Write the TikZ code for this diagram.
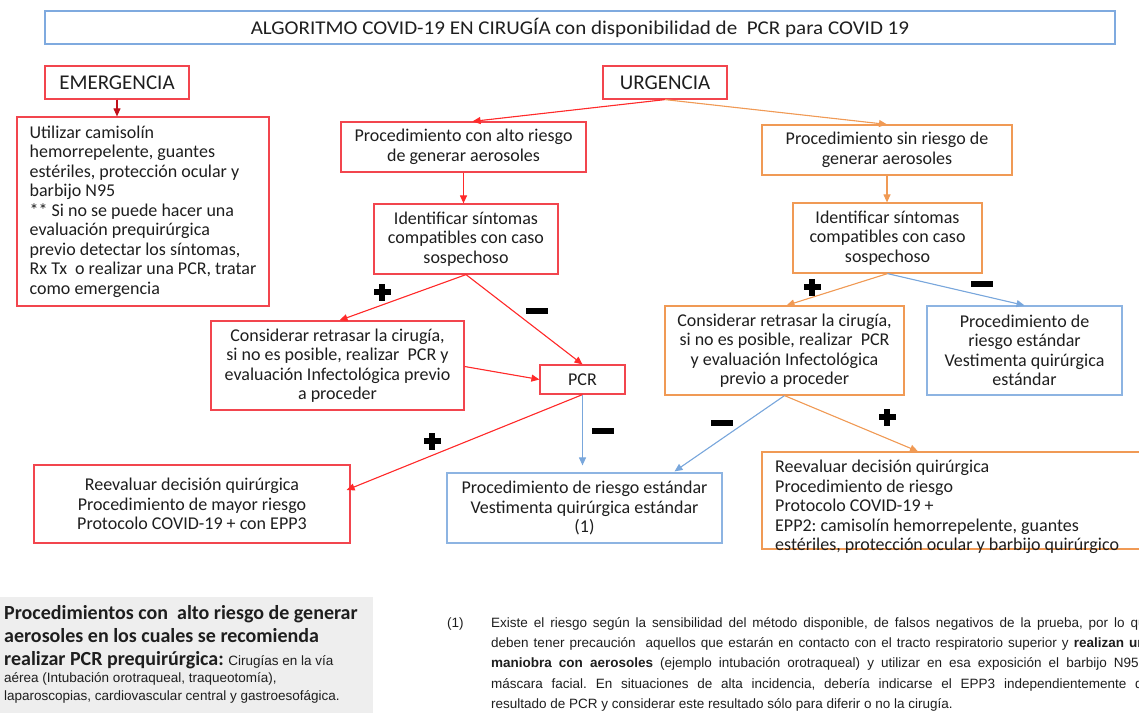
\documentclass[tikz,border=0pt]{standalone}
\usepackage{fontspec}
\setmainfont{Carlito}
\newfontfamily\arial{Liberation Sans}
\usetikzlibrary{arrows.meta}
\definecolor{boxred}{HTML}{F2454E}
\definecolor{arrred}{HTML}{FF2A2A}
\definecolor{darkred}{HTML}{C0101A}
\definecolor{boxorange}{HTML}{F09A55}
\definecolor{boxblue}{HTML}{8DB4E2}
\definecolor{arrblue}{HTML}{79A7DC}
\definecolor{titleblue}{HTML}{7FAADF}
\definecolor{txt}{HTML}{1E1E1E}
\definecolor{graybg}{HTML}{EEEEEE}
\frenchspacing
\begin{document}
\lineskiplimit=-100pt
\begin{tikzpicture}[x=1pt,y=-1pt,
  box/.style={draw,rectangle,inner sep=0pt,line width=1.2pt,align=center,text=txt,
    font=\fontsize{18}{19.5}\selectfont},
  redbox/.style={box,draw=boxred},
  orangebox/.style={box,draw=boxorange},
  bluebox/.style={box,draw=boxblue},
  arr/.style={line width=1.1pt,-{Triangle[length=8pt,width=7pt]}},
  redarr/.style={arr,draw=arrred,fill=arrred},
  orangearr/.style={arr,draw=boxorange,fill=boxorange},
  bluearr/.style={arr,draw=arrblue,fill=arrblue},
  dredarr/.style={arr,draw=darkred,fill=darkred},
  fnote/.style={anchor=base west,inner sep=0pt,text=txt,font=\arial\fontsize{13.5}{16}\selectfont},
  gline/.style={anchor=base west,inner sep=0pt,text=txt}
]
\useasboundingbox (0,0) rectangle (1139,713);
\clip (0,0) rectangle (1139,713);

% title
\node[box,draw=titleblue,minimum width=1070pt,minimum height=33pt,font=\fontsize{19.5}{22}\selectfont] (title) at (580,27.5)
  {\scalebox{1.08}[1]{ALGORITMO COVID-19 EN CIRUGÍA con disponibilidad de\ \ PCR para COVID 19}};

\node[redbox,minimum width=144pt,minimum height=33pt,font=\fontsize{21}{23}\selectfont] (emerg) at (117,82.5) {EMERGENCIA};
\node[redbox,minimum width=124pt,minimum height=33pt,font=\fontsize{21}{23}\selectfont] (urg) at (665,82.5) {URGENCIA};

\node[redbox,align=left,minimum width=252pt,minimum height=189pt] (emergtxt) at (143,211.5)
  {Utilizar camisolín\\hemorrepelente, guantes\\estériles, protección ocular y\\barbijo N95\\** Si no se puede hacer una\\evaluación prequirúrgica\\previo detectar los síntomas,\\Rx Tx\ \ o realizar una PCR, tratar\\como emergencia};

\node[redbox,minimum width=245pt,minimum height=50pt] (alto) at (463.5,147)
  {Procedimiento con alto riesgo\\de generar aerosoles};
\node[orangebox,minimum width=250pt,minimum height=50pt] (sin) at (887,150)
  {Procedimiento sin riesgo de\\generar aerosoles};

\node[redbox,minimum width=184pt,minimum height=70pt] (identR) at (466,239)
  {Identificar síntomas\\compatibles con caso\\sospechoso};
\node[orangebox,minimum width=189pt,minimum height=70pt] (identO) at (887.5,238)
  {Identificar síntomas\\compatibles con caso\\sospechoso};

\node[redbox,minimum width=253pt,minimum height=89pt] (consR) at (337.5,365.5)
  {Considerar retrasar la cirugía,\\si no es posible, realizar\ \ PCR y\\evaluación Infectológica previo\\a proceder};
\node[redbox,minimum width=85pt,minimum height=29pt] (pcr) at (582.5,379.5) {PCR};

\node[orangebox,minimum width=239pt,minimum height=89pt] (consO) at (784.5,350.5)
  {Considerar retrasar la cirugía,\\si no es posible, realizar\ \ PCR\\y evaluación Infectológica\\previo a proceder};
\node[bluebox,minimum width=195pt,minimum height=89pt] (stdR) at (1024.5,350.5)
  {Procedimiento de\\riesgo estándar\\Vestimenta quirúrgica\\estándar};

\node[redbox,minimum width=316pt,minimum height=78pt] (reevR) at (192,504)
  {Reevaluar decisión quirúrgica\\Procedimiento de mayor riesgo\\Protocolo COVID-19 + con EPP3};
\node[bluebox,minimum width=275pt,minimum height=70pt] (stdC) at (584.5,508)
  {Procedimiento de riesgo estándar\\Vestimenta quirúrgica estándar\\(1)};

\node[orangebox,minimum width=398pt,minimum height=97pt] (reevO) at (961,500.5) {};
\node[anchor=north west,inner sep=0pt,align=left,text=txt,font=\fontsize{18}{19.5}\selectfont] (reevOtxt) at (775,460)
  {Reevaluar decisión quirúrgica\\Procedimiento de riesgo\\Protocolo COVID-19 +\\EPP2: camisolín hemorrepelente, guantes\\estériles, protección ocular y barbijo quirúrgico};

% connectors
\draw[dredarr] (emerg.south) -- (emerg.south |- emergtxt.north);
\draw[redarr] (urg.south) -- ([xshift=9pt]alto.north);
\draw[orangearr] (urg.south) -- (sin.north);
\draw[redarr] (alto.south) -- (alto.south |- identR.north);
\draw[orangearr] (sin.south) -- (sin.south |- identO.north);
\draw[redarr] (identR.south) -- ([xshift=2pt]consR.north);
\draw[redarr] (identR.south) -- (pcr.north);
\draw[redarr] ([yshift=-1pt]consR.east) -- (pcr.west);
\draw[redarr] (pcr.south) -- ([xshift=-4pt,yshift=14pt]reevR.east);
\draw[bluearr] (pcr.south) -- ([yshift=7pt]pcr.south |- stdC.north);
\draw[orangearr] (identO.south) -- ([xshift=2pt]consO.north);
\draw[bluearr] (identO.south) -- (stdR.north);
\draw[bluearr] (consO.south) -- ([xshift=90pt,yshift=1pt]stdC.north);
\draw[orangearr] (consO.south) -- ([xshift=-43pt]reevO.north);

% plus and minus signs
\foreach \cx/\cy in {382/292, 432/441, 812/287, 887/417}{
  \fill[black] (\cx-8.5,\cy-3) rectangle (\cx+8.5,\cy+3);
  \fill[black] (\cx-3,\cy-8.5) rectangle (\cx+3,\cy+8.5);
}
\foreach \cx/\cy in {537/311, 603/431, 982/284, 722/423}{
  \fill[black] (\cx-11,\cy-3) rectangle (\cx+11,\cy+3);
}

% gray note
\fill[graybg] (0,597) rectangle (373,713);
\node[gline,font=\fontsize{20}{23}\selectfont\bfseries] (g1) at (4,619) {Procedimientos con\ \ alto riesgo de generar};
\node[gline,font=\fontsize{20}{23}\selectfont\bfseries] (g2) at (4,642) {aerosoles en los cuales se recomienda};
\node[gline,font=\fontsize{20}{23}\selectfont\bfseries] (g3) at (4,665) {realizar PCR prequirúrgica: {\arial\mdseries\fontsize{13.5}{16}\selectfont Cirugías en la vía}};
\node[gline,font=\arial\fontsize{13.5}{16}\selectfont] (g4) at (4,682) {aérea (Intubación orotraqueal, traqueotomía),};
\node[gline,font=\arial\fontsize{13.5}{16}\selectfont] (g5) at (4,700) {laparoscopias, cardiovascular central y gastroesofágica.};

% footnote
\node[fnote] (f0) at (447,627) {(1)};
\node[fnote] (f1) at (491,627) {\makebox[662pt][s]{Existe el riesgo según la sensibilidad del método disponible, de falsos negativos de la prueba, por lo que}};
\node[fnote] (f2) at (491,647) {\makebox[662pt][s]{deben tener precaución\ \ aquellos que estarán en contacto con el tracto respiratorio superior y \textbf{realizan una}}};
\node[fnote] (f3) at (491,667) {\makebox[662pt][s]{\textbf{maniobra con aerosoles} (ejemplo intubación orotraqueal) y utilizar en esa exposición el barbijo N95 o}};
\node[fnote] (f4) at (491,688) {\makebox[662pt][s]{máscara facial. En situaciones de alta incidencia, debería indicarse el EPP3 independientemente del}};
\node[fnote] (f5) at (491,708) {resultado de PCR y considerar este resultado sólo para diferir o no la cirugía.};
\end{tikzpicture}
\end{document}
